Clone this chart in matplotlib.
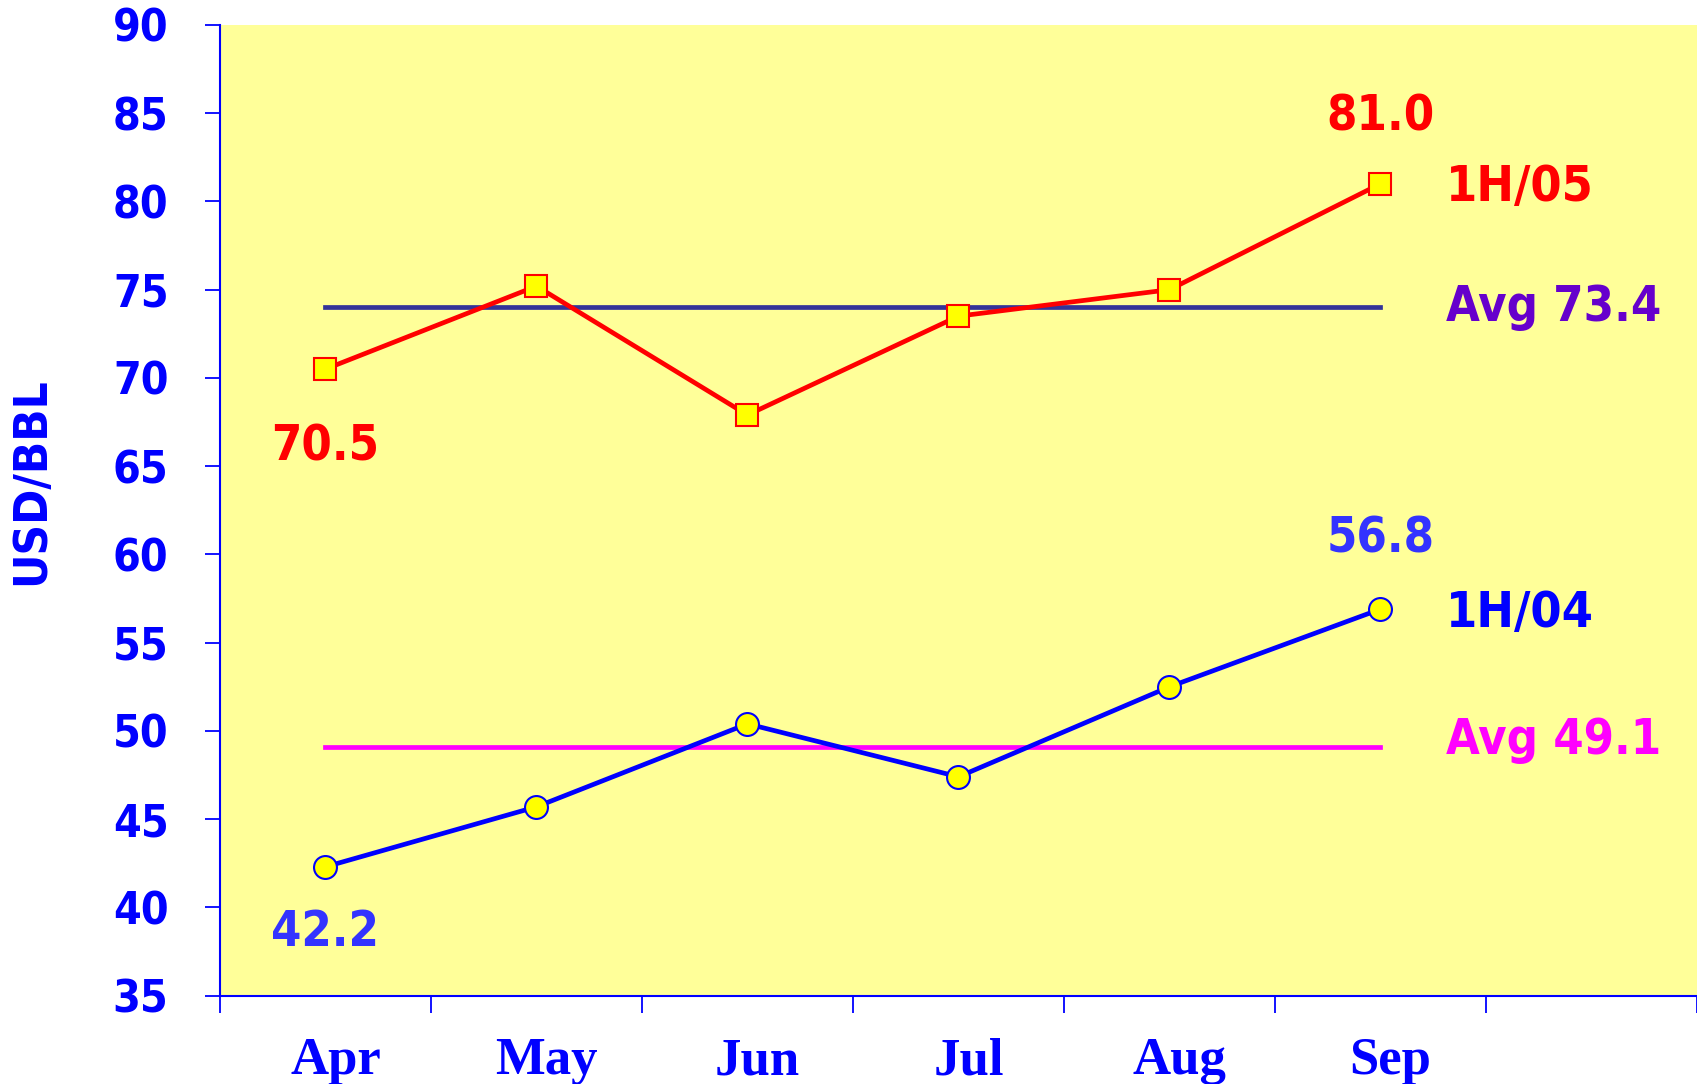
import matplotlib
matplotlib.use("Agg")
import matplotlib.pyplot as plt
from matplotlib.transforms import ScaledTranslation
import numpy as np

months = ["Apr", "May", "Jun", "Jul", "Aug", "Sep"]
h05 = [70.5, 75.2, 67.9, 73.5, 75.0, 81.0]
h04 = [42.3, 45.7, 50.4, 47.4, 52.5, 56.9]
avg05_line = 74.0
avg04_line = 49.1
avg05_label = "Avg 73.4"
avg04_label = "Avg 49.1"
yticks = [35, 40, 45, 50, 55, 60, 65, 70, 75, 80, 85, 90]

BLUE = "#0000FF"
SANS = dict(family="DejaVu Sans", stretch="condensed", weight="bold")
fig = plt.figure(figsize=(16.97, 10.84), dpi=100)
ax = fig.add_axes([0.1296, 0.0815, 0.8704, 0.8955])
ax.set_facecolor("#FFFF99")

x = np.arange(len(months)) + 0.5
ax.plot([x[0], x[-1]], [avg05_line] * 2, color="#333399", lw=3.4, zorder=2)
ax.plot([x[0], x[-1]], [avg04_line] * 2, color="#FF00FF", lw=3.4, zorder=2)
ax.plot(x, h05, color="#FF0000", lw=3.4, marker="s", ms=15.5,
        mfc="#FFFF00", mec="#FF0000", mew=1.5, zorder=3)
ax.plot(x, h04, color=BLUE, lw=3.4, marker="o", ms=16.5,
        mfc="#FFFF00", mec=BLUE, mew=1.5, zorder=3)

ax.set_xlim(0, 7)
ax.set_ylim(35, 90)
ax.set_yticks(yticks)
ax.set_yticklabels([str(v) for v in yticks], fontsize=32, color=BLUE, **SANS)
ax.set_xticks(np.arange(0, 8))
ax.set_xticklabels([])
ax.set_xticks(x, minor=True)
ax.set_xticklabels(months, minor=True, fontfamily="Liberation Serif",
                   fontweight="bold", fontsize=38, color=BLUE)
ax.tick_params(axis="x", which="minor", length=0, pad=30)
ax.tick_params(axis="x", which="major", length=12, width=1.3, color=BLUE, direction="out")
ax.tick_params(axis="y", length=11, width=1.3, color=BLUE, pad=26)
shift = ScaledTranslation(0.10, 0, fig.dpi_scale_trans)
for lab in ax.get_xticklabels(minor=True):
    lab.set_transform(lab.get_transform() + shift)

for s in ["top", "right"]:
    ax.spines[s].set_visible(False)
for s in ["left", "bottom"]:
    ax.spines[s].set_color(BLUE)
    ax.spines[s].set_linewidth(1.5)

ax.set_ylabel("USD/BBL", fontsize=34, color=BLUE, **SANS)
ax.yaxis.set_label_coords(-0.112, 0.53)

fs = 35
ax.text(x[-1], 84.8, f"{h05[-1]:.1f}", color="#FF0000", fontsize=fs, ha="center", va="center", **SANS)
ax.text(x[0], 66.1, f"{h05[0]:.1f}", color="#FF0000", fontsize=fs, ha="center", va="center", **SANS)
ax.text(x[-1], 60.9, "56.8", color="#3333FF", fontsize=fs, ha="center", va="center", **SANS)
ax.text(x[0], 38.6, "42.2", color="#3333FF", fontsize=fs, ha="center", va="center", **SANS)
ax.text(5.81, 80.8, "1H/05", color="#FF0000", fontsize=36, ha="left", va="center", **SANS)
ax.text(5.81, 56.7, "1H/04", color=BLUE, fontsize=36, ha="left", va="center", **SANS)
ax.text(5.81, 74.0, avg05_label, color="#6600CC", fontsize=fs, ha="left", va="center", **SANS)
ax.text(5.81, 49.5, avg04_label, color="#FF00FF", fontsize=fs, ha="left", va="center", **SANS)

fig.savefig("out.png", dpi=100, facecolor="white")
